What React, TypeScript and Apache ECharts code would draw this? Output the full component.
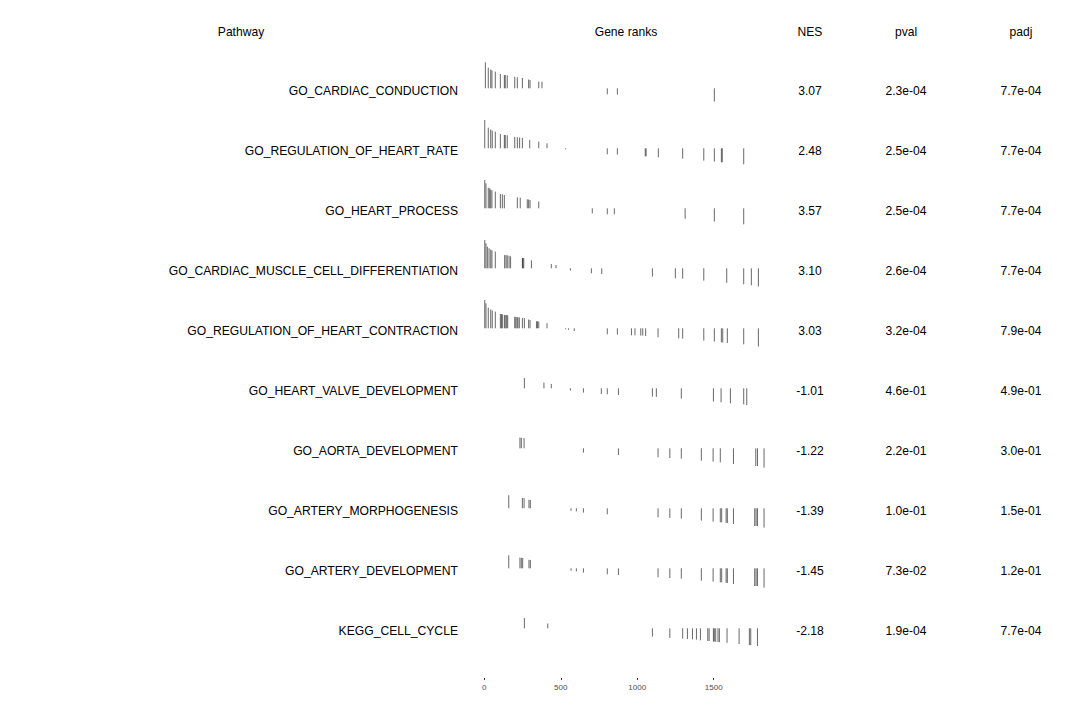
import React, { useEffect, useRef } from "react";
import * as echarts from "echarts";

const geneRank = [
  3, 7, 11, 20, 26, 31, 35, 42, 50, 52, 72, 105, 112, 118, 131, 133, 137, 142, 146, 150, 153, 160, 162, 172,
  199, 206, 214, 216, 220, 229, 231, 233, 235, 242, 249, 251, 252, 258, 260, 262, 281, 290, 292, 297, 299, 301,
  308, 341, 348, 356, 377, 390, 410, 415, 438, 469, 532, 551, 563, 567, 588, 602, 648, 700, 706, 765, 768, 804,
  850, 870, 877, 962, 985, 1023, 1036, 1052, 1055, 1058, 1099, 1125, 1136, 1138, 1213, 1249, 1271, 1288, 1297,
  1313, 1328, 1361, 1387, 1413, 1419, 1435, 1461, 1470, 1496, 1498, 1504, 1513, 1528, 1537, 1543, 1548, 1550,
  1552, 1556, 1559, 1581, 1585, 1587, 1589, 1609, 1629, 1666, 1696, 1716, 1733, 1742, 1746, 1768, 1775, 1777,
  1786, 1792, 1829,
];
const geneStat = [
  2.83, 2.6, 2.5, 2.17, 2.06, 2.0, 2.0, 1.88, 1.8, 1.78, 1.67, 1.43, 1.42, 1.4, 1.33, 1.33, 1.33, 1.32, 1.32, 1.3,
  1.3, 1.3, 1.25, 1.2, 1.15, 1.13, 1.12, 1.1, 1.1, 1.08, 1.07, 1.07, 1.07, 1.05, 1.04, 1.03, 1.03, 1.03, 1.02,
  1.02, 0.9, 0.88, 0.85, 0.84, 0.83, 0.83, 0.8, 0.7, 0.7, 0.67, 0.65, 0.57, 0.5, 0.48, 0.43, 0.33, -0.1, -0.15,
  -0.22, -0.25, -0.28, -0.3, -0.43, -0.5, -0.5, -0.57, -0.57, -0.6, -0.6, -0.62, -0.67, -0.7, -0.7, -0.73, -0.73,
  -0.8, -0.77, -0.8, -0.83, -0.85, -0.9, -0.9, -0.97, -1.0, -1.0, -1.03, -1.03, -1.05, -1.07, -1.1, -1.13, -1.2,
  -1.23, -1.23, -1.27, -1.27, -1.33, -1.33, -1.33, -1.35, -1.37, -1.38, -1.4, -1.4, -1.4, -1.4, -1.4, -1.42,
  -1.45, -1.45, -1.45, -1.47, -1.5, -1.57, -1.58, -1.6, -1.67, -1.68, -1.68, -1.7, -1.77, -1.77, -1.77, -1.77,
  -1.82, -1.93,
];

const pathways = [
  "GO_CARDIAC_CONDUCTION",
  "GO_REGULATION_OF_HEART_RATE",
  "GO_HEART_PROCESS",
  "GO_CARDIAC_MUSCLE_CELL_DIFFERENTIATION",
  "GO_REGULATION_OF_HEART_CONTRACTION",
  "GO_HEART_VALVE_DEVELOPMENT",
  "GO_AORTA_DEVELOPMENT",
  "GO_ARTERY_MORPHOGENESIS",
  "GO_ARTERY_DEVELOPMENT",
  "KEGG_CELL_CYCLE",
];

const ranksCardiacConduction = [7, 26, 42, 50, 72, 105, 131, 137, 150, 199, 216, 249, 290, 299, 356, 377, 804, 870, 1504];
const ranksHeartRate = [3, 26, 42, 52, 72, 105, 131, 137, 150, 199, 216, 231, 249, 297, 356, 410, 532, 804, 870, 1052, 1058, 1138, 1297, 1435, 1504, 1550, 1556, 1696];
const ranksHeartProcess = [3, 11, 26, 35, 42, 50, 72, 105, 118, 131, 216, 235, 281, 290, 299, 356, 706, 804, 850, 1313, 1504, 1696];
const ranksMuscleDiff = [3, 11, 20, 31, 42, 50, 72, 133, 142, 150, 162, 172, 249, 252, 258, 308, 438, 469, 563, 700, 768, 1099, 1249, 1297, 1435, 1585, 1696, 1746, 1792];
const ranksHeartContraction = [3, 11, 26, 42, 52, 72, 105, 112, 118, 131, 137, 146, 153, 199, 206, 214, 220, 229, 249, 262, 290, 299, 341, 348, 356, 410, 532, 551, 588, 804, 870, 962, 985, 1023, 1036, 1055, 1136, 1271, 1297, 1435, 1504, 1550, 1559, 1589, 1696, 1792];
const ranksHeartValve = [262, 390, 438, 563, 648, 765, 804, 877, 1099, 1125, 1288, 1498, 1548, 1609, 1696, 1716];
const ranksAorta = [233, 242, 260, 648, 877, 1136, 1213, 1288, 1419, 1496, 1543, 1629, 1775, 1786, 1829];
const ranksArteryMorph = [160, 249, 260, 292, 301, 567, 602, 648, 804, 1136, 1213, 1288, 1419, 1496, 1543, 1552, 1581, 1589, 1629, 1768, 1777, 1786, 1829];
const ranksArteryDev = [160, 233, 242, 251, 292, 301, 567, 602, 648, 804, 877, 1136, 1213, 1288, 1419, 1496, 1543, 1552, 1581, 1589, 1629, 1768, 1777, 1786, 1829];
const ranksCellCycle = [262, 415, 1099, 1213, 1297, 1328, 1361, 1387, 1413, 1461, 1470, 1498, 1504, 1513, 1528, 1537, 1587, 1666, 1733, 1742, 1786];

const pathwayRanks = [
  ranksCardiacConduction, ranksHeartRate, ranksHeartProcess, ranksMuscleDiff, ranksHeartContraction,
  ranksHeartValve, ranksAorta, ranksArteryMorph, ranksArteryDev, ranksCellCycle,
];

const nes = [3.07, 2.48, 3.57, 3.1, 3.03, -1.01, -1.22, -1.39, -1.45, -2.18];
const pval = [2.3e-4, 2.5e-4, 2.5e-4, 2.6e-4, 3.2e-4, 4.6e-1, 2.2e-1, 1.0e-1, 7.3e-2, 1.9e-4];
const padj = [7.7e-4, 7.7e-4, 7.7e-4, 7.7e-4, 7.9e-4, 4.9e-1, 3.0e-1, 1.5e-1, 1.2e-1, 7.7e-4];

const rankTicks = [0, 500, 1000, 1500];
const headers = ["Pathway", "Gene ranks", "NES", "pval", "padj"];

const FONT = "'Liberation Sans', Arial, Helvetica, sans-serif";

function fmtExp(v: number): string {
  const s = v.toExponential(1);
  const [m, e] = s.split("e");
  const sign = e[0] === "-" ? "-" : "+";
  const digits = e.replace(/[+-]/, "").padStart(2, "0");
  return `${m}e${sign}${digits}`;
}

export default function App() {
  const ref = useRef<HTMLDivElement>(null);
  useEffect(() => {
    if (!ref.current) return;
    const chart = echarts.init(ref.current, null, { renderer: "svg" });
    const statMap = new Map<number, number>();
    geneRank.forEach((r, i) => statMap.set(r, geneStat[i]));

    const rowTop0 = 88.3;
    const rowStep = 60;
    const gLeft = 484.3;
    const xMax = 1850;
    const gWidth = xMax * 0.15295;

    const grids: any[] = [];
    const xAxes: any[] = [];
    const yAxes: any[] = [];
    const series: any[] = [];

    pathways.forEach((p, i) => {
      const base = rowTop0 + i * rowStep;
      grids.push({ left: gLeft, width: gWidth, top: base - 30, height: 60 });
      xAxes.push({ gridIndex: i, type: "value", min: 0, max: xMax, show: false });
      yAxes.push({ gridIndex: i, type: "value", min: -3, max: 3, show: false });
      series.push({
        type: "custom",
        xAxisIndex: i,
        yAxisIndex: i,
        data: pathwayRanks[i].map((r) => [r, statMap.get(r) ?? 0]),
        renderItem: (params: any, api: any) => {
          const a = api.coord([api.value(0), 0]);
          const b = api.coord([api.value(0), api.value(1)]);
          return {
            type: "line",
            shape: { x1: a[0], y1: a[1], x2: b[0], y2: b[1] },
            style: { stroke: "#000", lineWidth: 0.8, opacity: 0.75 },
          };
        },
      });
    });

    const ai = pathways.length;
    grids.push({ left: gLeft, width: gWidth, top: 677, height: 1 });
    xAxes.push({
      gridIndex: ai,
      type: "value",
      min: 0,
      max: xMax,
      position: "bottom",
      axisLine: { show: false },
      splitLine: { show: false },
      axisTick: { show: true, length: 2, customValues: rankTicks, lineStyle: { color: "#333", width: 1 } },
      axisLabel: {
        customValues: rankTicks,
        fontSize: 8,
        color: "#4d4d4d",
        margin: 5,
        fontFamily: FONT,
        formatter: (v: number) => String(v),
      },
    });
    yAxes.push({ gridIndex: ai, type: "value", show: false });

    const graphics: any[] = [];
    const headerX = [241, 626, 810, 906, 1021];
    headers.forEach((h, j) => {
      graphics.push({
        type: "text",
        x: headerX[j],
        y: 31.5,
        style: { text: h, fontSize: 12.1, fontFamily: FONT, fill: "#000", align: "center", verticalAlign: "middle" },
      });
    });
    pathways.forEach((p, i) => {
      const y = 91 + i * rowStep;
      graphics.push({
        type: "text",
        x: 458,
        y,
        style: { text: p, fontSize: 12.15, fontFamily: FONT, fill: "#000", align: "right", verticalAlign: "middle" },
      });
      const vals = [nes[i].toFixed(2), fmtExp(pval[i]), fmtExp(padj[i])];
      [810, 906, 1021].forEach((x, k) => {
        graphics.push({
          type: "text",
          x,
          y,
          style: { text: vals[k], fontSize: 12.1, fontFamily: FONT, fill: "#000", align: "center", verticalAlign: "middle" },
        });
      });
    });

    chart.setOption({
      animation: false,
      backgroundColor: "#fff",
      grid: grids,
      xAxis: xAxes,
      yAxis: yAxes,
      series,
      graphic: graphics,
    });
    return () => chart.dispose();
  }, []);
  return <div ref={ref} style={{ position: "fixed", left: 0, top: 0, width: 1080, height: 720 }} />;
}
